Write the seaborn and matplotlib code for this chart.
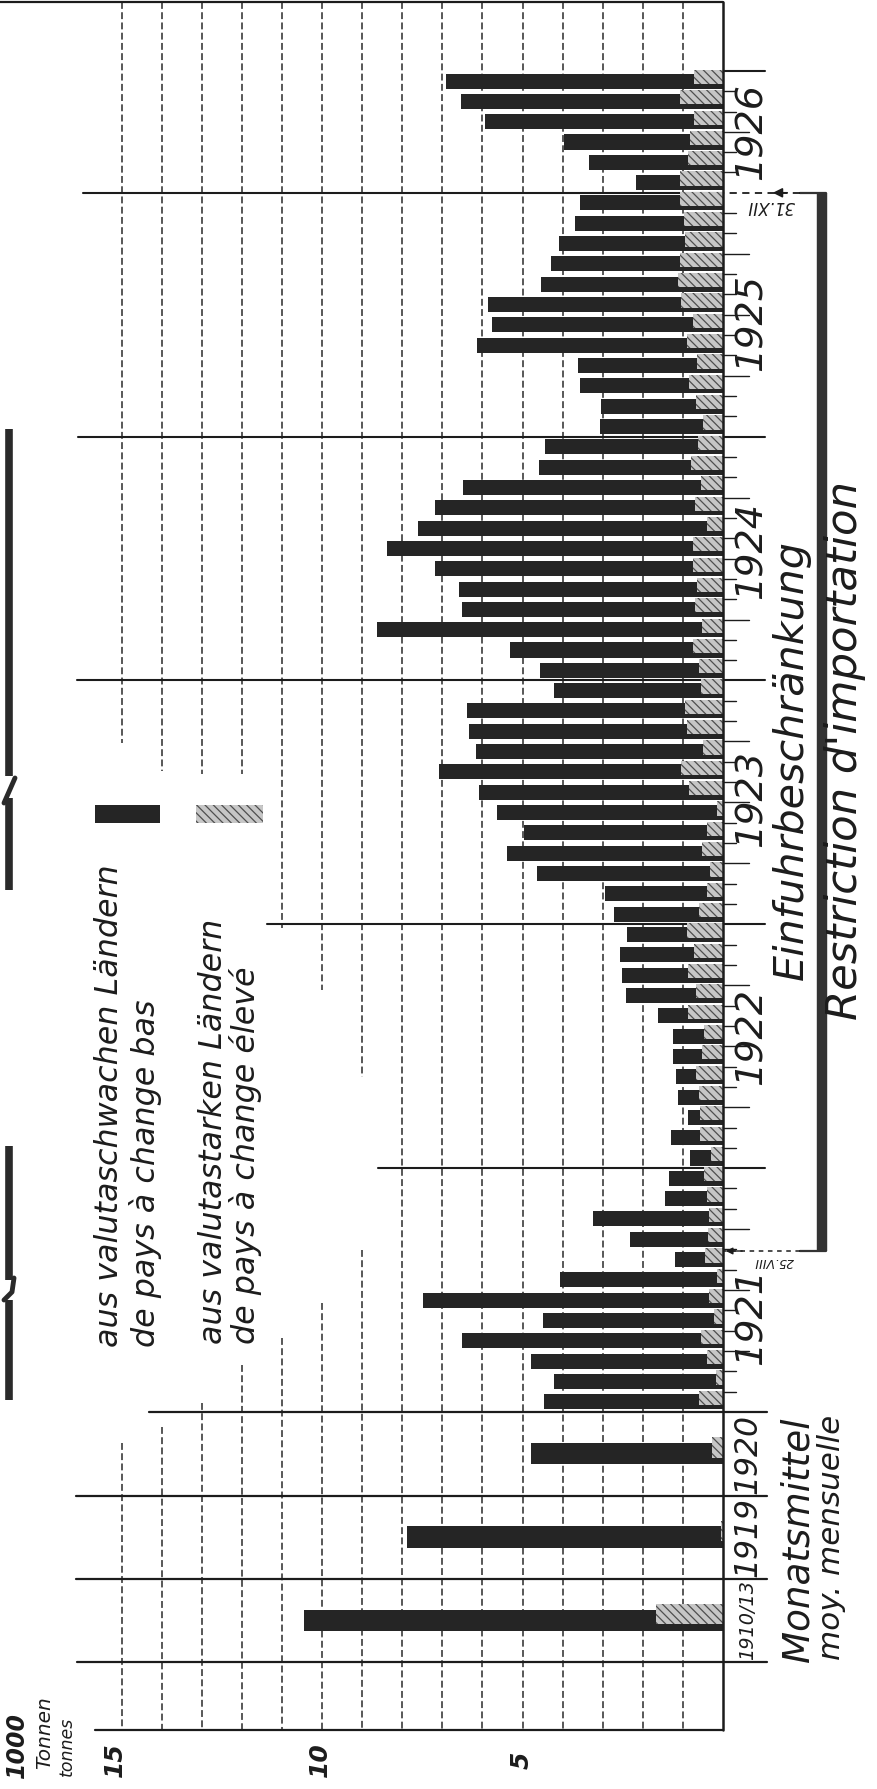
import numpy as np
import pandas as pd
import matplotlib
matplotlib.use("Agg")
import matplotlib.pyplot as plt
from matplotlib.patches import Rectangle
import seaborn as sns

# ---------------- data (1000 tonnes) ----------------
years = [1921, 1922, 1923, 1924, 1925, 1926]
# monthly imports from low-exchange countries (dark) and high-exchange countries (light), Jan..Dec
weak_1921 = [3.85, 4.04, 4.39, 5.95, 4.28, 7.12, 3.92, 0.75, 1.94, 2.87, 1.04, 0.86]
strong_1921 = [0.61, 0.17, 0.40, 0.55, 0.22, 0.36, 0.15, 0.44, 0.37, 0.36, 0.40, 0.48]
weak_1922 = [0.54, 0.72, 0.31, 0.51, 0.49, 0.73, 0.77, 0.74, 1.75, 1.65, 1.83, 1.48]
strong_1922 = [0.29, 0.58, 0.57, 0.61, 0.67, 0.52, 0.48, 0.88, 0.67, 0.87, 0.73, 0.91]
weak_1923 = [2.12, 2.55, 4.31, 4.87, 4.57, 5.49, 5.23, 6.04, 5.66, 5.42, 5.44, 3.67]
strong_1923 = [0.61, 0.40, 0.33, 0.52, 0.40, 0.15, 0.86, 1.05, 0.50, 0.91, 0.94, 0.54]
weak_1924 = [3.95, 4.55, 8.11, 5.80, 5.94, 6.44, 7.63, 7.21, 6.50, 5.94, 3.77, 3.83]
strong_1924 = [0.61, 0.75, 0.52, 0.71, 0.65, 0.75, 0.75, 0.40, 0.69, 0.54, 0.81, 0.62]
weak_1925 = [2.56, 2.37, 2.70, 2.97, 5.22, 5.00, 4.82, 3.42, 3.22, 3.14, 2.72, 2.51]
strong_1925 = [0.50, 0.68, 0.86, 0.65, 0.91, 0.76, 1.04, 1.11, 1.06, 0.94, 0.98, 1.06]
weak_1926 = [1.10, 2.47, 3.14, 5.20, 5.45, 6.17]
strong_1926 = [1.06, 0.88, 0.83, 0.73, 1.08, 0.73]

mean_labels = ["1910/13", "1919", "1920"]
mean_weak = [8.78, 7.83, 4.52]
mean_strong = [1.68, 0.06, 0.27]

value_ticks = [15, 10, 5]
legend_weak = ["aus valutaschwachen Ländern", "de pays à change bas"]
legend_strong = ["aus valutastarken Ländern", "de pays à change élevé"]
unit_label = ["1000", "Tonnen", "tonnes"]
mean_caption = ["Monatsmittel", "moy. mensuelle"]
restriction = ["Einfuhrbeschränkung", "Restriction d'importation"]
restriction_dates = ["31.XII", "25.VIII"]

# ---------------- style ----------------
sns.set_theme(style="white")
plt.rcParams["font.family"] = ["DejaVu Sans"]
plt.rcParams["hatch.linewidth"] = 0.9

W, H = 878, 1789
fig = plt.figure(figsize=(W / 100, H / 100), dpi=100)
ax = fig.add_axes([0, 0, 1, 1])

# pixel helpers for the (rotated) layout
X0, UX = 723.0, 40.1      # x pixel of value 0, pixels per 1000 t
Y0, UY = 1412.0, 20.32    # y pixel of start of Jan 1921, pixels per month


def vx(px):
    return (X0 - px) / UX


def ty(py):
    return (Y0 - py) / UY


INK = "#1c1c1c"
DARK = "#252525"
LIGHT = "#c6c6c6"
HATCH = "#4e4e4e"

# ---------------- frame and grid ----------------
T_TOP, T_BOT = ty(2), ty(1730)
grid_segments = {v: [(2, 1730)] for v in range(1, 9)}
grid_segments.update({
    9: [(2, 1077), (1250, 1730)],
    10: [(2, 990), (1303, 1730)],
    11: [(2, 928), (1338, 1730)],
    12: [(2, 774), (1365, 1730)],
    13: [(2, 774), (1403, 1730)],
    14: [(2, 771), (1427, 1730)],
    15: [(2, 743), (1443, 1730)],
})
for v, segs in grid_segments.items():
    for a, b in segs:
        ax.plot([v, v], [ty(a), ty(b)], color="#2a2a2a", lw=1.1,
                dashes=(4.5, 2.2), zorder=1, solid_capstyle="butt")

# outer frame
ax.plot([vx(0), 0], [T_TOP, T_TOP], color=INK, lw=1.6, zorder=2)
ax.plot([vx(95), 0], [T_BOT, T_BOT], color=INK, lw=1.6, zorder=2)
ax.plot([0, 0], [T_TOP, T_BOT], color=INK, lw=1.8, zorder=5)

# year separators (t in months) with their left pixel extent
sep_lines = [(12, 378), (24, 267), (36, 77), (48, 78), (60, 83)]
for t, pxl in sep_lines:
    ax.plot([vx(pxl), 0], [t, t], color=INK, lw=1.5, zorder=2)
    if t != 60:
        ax.plot([0, vx(765)], [t, t], color=INK, lw=1.5, zorder=2)
ax.plot([0, vx(765)], [66, 66], color=INK, lw=1.5, zorder=2)

# sections for the yearly means
mean_sep = [0.0, -4.15, -8.2, -12.3]
mean_sep_left = [149, 76, 76, 77]
for t, pxl in zip(mean_sep, mean_sep_left):
    ax.plot([vx(pxl), vx(767)], [t, t], color=INK, lw=1.6, zorder=2)

# month ticks
for k in range(1, 66):
    if k % 12 == 0:
        continue
    end = vx(749) if k % 3 == 0 else vx(736)
    ax.plot([0, end], [k, k], color=INK, lw=1.0, zorder=2)

# ---------------- bars ----------------
weak = weak_1921 + weak_1922 + weak_1923 + weak_1924 + weak_1925 + weak_1926
strong = strong_1921 + strong_1922 + strong_1923 + strong_1924 + strong_1925 + strong_1926
df = pd.DataFrame({"t": np.arange(len(weak)) + 0.5, "weak": weak, "strong": strong})
df["total"] = df["weak"] + df["strong"]
df["t_light"] = df["t"] + 0.2

dm = pd.DataFrame({"t": [-10.25, -6.15, -2.05], "weak": mean_weak, "strong": mean_strong})
dm["total"] = dm["weak"] + dm["strong"]
dm["t_light"] = dm["t"] + 0.3

sns.barplot(data=df, x="total", y="t", orient="h", native_scale=True, width=0.74,
            color=DARK, saturation=1, errorbar=None, linewidth=0, zorder=3, ax=ax)
sns.barplot(data=dm, x="total", y="t", orient="h", native_scale=True, width=1.05 / 4.1,
            color=DARK, saturation=1, errorbar=None, linewidth=0, zorder=3, ax=ax)
n_before = len(ax.patches)
sns.barplot(data=df, x="strong", y="t_light", orient="h", native_scale=True, width=0.7,
            color=LIGHT, saturation=1, errorbar=None, linewidth=0, zorder=4, ax=ax)
sns.barplot(data=dm, x="strong", y="t_light", orient="h", native_scale=True, width=1.0 / 4.1,
            color=LIGHT, saturation=1, errorbar=None, linewidth=0, zorder=4, ax=ax)
for p in ax.patches[n_before:]:
    p.set_hatch("\\\\\\\\")
    p.set_edgecolor(HATCH)
    p.set_linewidth(0)

ax.set_xlim(vx(0), vx(W))
ax.set_ylim(ty(H), ty(0))
ax.axis("off")

# ---------------- texts ----------------
renderer = fig.canvas.get_renderer()


def fit(txt, length_px, along="v"):
    """scale the font so that the (rotated) text spans length_px pixels"""
    bb = txt.get_window_extent(renderer)
    cur = bb.height if along == "v" else bb.width
    txt.set_fontsize(txt.get_fontsize() * length_px / cur)
    return txt


TXT = dict(color=INK, style="italic", rotation=90, rotation_mode="anchor")

year_pos = [4.7, 18.5, 30.2, 42.4, 53.6, 63.0]
for y, t in zip(years, year_pos):
    fit(ax.text(vx(752), t, str(y), fontsize=26, ha="center", va="center", **TXT), 97)

mean_pos = [-10.25, -6.15, -2.05]
for lab, t in zip(mean_labels, mean_pos):
    fit(ax.text(vx(748), t, lab, fontsize=20, ha="center", va="center", **TXT), 80)

fit(ax.text(vx(798), ty(1662), mean_caption[0], fontsize=24, ha="left", va="center", **TXT), 245)
fit(ax.text(vx(832), ty(1660), mean_caption[1], fontsize=21, ha="left", va="center", **TXT), 245)

fit(ax.text(vx(791), ty(760), restriction[0], fontsize=25, ha="center", va="center", **TXT), 440)
fit(ax.text(vx(845), ty(750), restriction[1], fontsize=26, ha="center", va="center", **TXT), 540)

# legend (one common lettering size)
leg1 = fit(ax.text(vx(110), ty(1347), legend_weak[0], fontsize=21, ha="left",
                   va="center", **TXT), 482)
fs_leg = leg1.get_fontsize()
ax.text(vx(145), ty(1347), legend_weak[1], fontsize=fs_leg, ha="left", va="center", **TXT)
ax.text(vx(214), ty(1344), legend_strong[0], fontsize=fs_leg, ha="left", va="center", **TXT)
ax.text(vx(246), ty(1344), legend_strong[1], fontsize=fs_leg, ha="left", va="center", **TXT)
ax.add_patch(Rectangle((vx(160), ty(823)), vx(95) - vx(160), ty(805) - ty(823),
                       facecolor=DARK, edgecolor="none", zorder=3))
ax.add_patch(Rectangle((vx(263), ty(823)), vx(196) - vx(263), ty(805) - ty(823),
                       facecolor=LIGHT, edgecolor=HATCH, lw=0, hatch="\\\\\\\\", zorder=3))

# value labels
for v, px in zip(value_ticks, [115, 320, 522]):
    ax.text(vx(px), ty(1760), str(v), fontsize=18, fontweight="bold", ha="center",
            va="center", **TXT)
ax.text(vx(17), ty(1745), unit_label[0], fontsize=17, fontweight="bold", ha="center",
        va="center", **TXT)
ax.text(vx(45), ty(1733), unit_label[1], fontsize=14.5, ha="center", va="center", **TXT)
ax.text(vx(67), ty(1746), unit_label[2], fontsize=12.5, ha="center", va="center", **TXT)

# restriction bracket
t_end, t_start = 60.0, ty(1251)
ax.plot([vx(822), vx(822)], [t_end, t_start], color="#333333", lw=7.5,
        solid_capstyle="butt", zorder=2)
ax.plot([vx(826), vx(800)], [t_end, t_end], color="#333333", lw=1.6, zorder=2)
ax.plot([vx(800), 0], [t_end, t_end], color=INK, lw=1.3, dashes=(4, 3), zorder=2)
ax.annotate("", xy=(vx(770), t_end), xytext=(vx(790), t_end),
            arrowprops=dict(arrowstyle="-|>", color=INK, lw=1.2, mutation_scale=14))
ax.plot([vx(826), vx(800)], [t_start, t_start], color="#333333", lw=1.6, zorder=2)
ax.plot([vx(800), 0], [t_start, t_start], color=INK, lw=1.1, dashes=(3, 3), zorder=2)
ax.annotate("", xy=(vx(723), t_start), xytext=(vx(745), t_start),
            arrowprops=dict(arrowstyle="-|>", color=INK, lw=1.0, mutation_scale=10))
ax.text(vx(771), ty(206), restriction_dates[0], fontsize=12, style="italic",
        rotation=180, ha="center", va="center", color=INK)
ax.text(vx(774), ty(1261), restriction_dates[1], fontsize=9, style="italic",
        rotation=180, ha="center", va="center", color=INK)

# bleed-through marks at the left margin
for a, b in [(429, 776), (798, 890), (1146, 1280), (1300, 1400)]:
    ax.plot([vx(9), vx(9)], [ty(a), ty(b)], color="#2a2a2a", lw=5.5,
            solid_capstyle="butt", zorder=2)
ax.plot([vx(4), vx(15)], [ty(803), ty(778)], color="#2a2a2a", lw=3.5, zorder=2)
ax.plot([vx(4), vx(12), vx(14)], [ty(1300), ty(1292), ty(1278)], color="#2a2a2a",
        lw=3.5, zorder=2)

fig.savefig("out.png", dpi=100, facecolor="white")
